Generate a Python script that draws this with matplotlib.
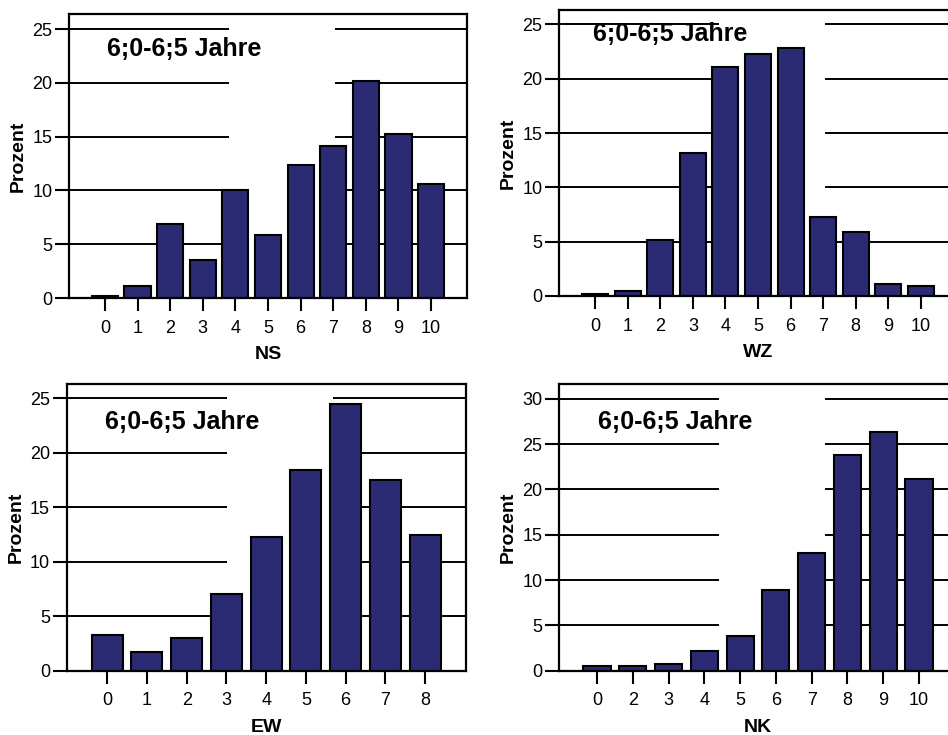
import matplotlib.pyplot as plt
from matplotlib.patches import Rectangle
from matplotlib.transforms import offset_copy

plt.rcParams['font.family'] = ['Liberation Sans', 'DejaVu Sans']

### Data ###

title_text = '6;0-6;5 Jahre'
y_label = 'Prozent'

ns_labels = ['0', '1', '2', '3', '4', '5', '6', '7', '8', '9', '10']
ns_values = [0.2, 1.1, 6.9, 3.5, 10.0, 5.9, 12.4, 14.1, 20.2, 15.2, 10.6]

wz_labels = ['0', '1', '2', '3', '4', '5', '6', '7', '8', '9', '10']
wz_values = [0.2, 0.5, 5.2, 13.2, 21.1, 22.3, 22.8, 7.3, 5.9, 1.1, 0.9]

ew_labels = ['0', '1', '2', '3', '4', '5', '6', '7', '8']
ew_values = [3.3, 1.7, 3.0, 7.0, 12.3, 18.4, 24.5, 17.5, 12.5]

nk_labels = ['0', '2', '3', '4', '5', '6', '7', '8', '9', '10']
nk_values = [0.5, 0.5, 0.7, 2.2, 3.8, 8.9, 13.0, 23.8, 26.3, 21.2]

bar_color = '#2a2b72'
W, H = 948, 735


def make_axes(fig, left, top, right, bottom):
    """Axes placed by pixel box (left, top, right, bottom)."""
    return fig.add_axes([left / W, 1 - bottom / H,
                         (right - left) / W, (bottom - top) / H])


def plot_panel(fig, ax, labels, values, xlabel, ymax, yticks, margin,
               bar_width, title_dx, title_dy):
    """Draw one SPSS-style percentage bar panel."""
    pos = list(range(len(labels)))

    ax.set_axisbelow(True)
    ax.yaxis.grid(True, color='black', linewidth=1.4)

    # white label frame hiding the middle of the grid lines
    ax.add_patch(Rectangle((0.402, 0.005), 0.266, 0.98,
                           transform=ax.transAxes, facecolor='white',
                           edgecolor='none', zorder=1))

    ax.bar(pos, values, width=bar_width, color=bar_color,
           edgecolor='black', linewidth=1.5, zorder=2)

    ax.set_xlim(-margin, len(labels) - 1 + margin)
    ax.set_ylim(0, ymax)
    ax.set_yticks(yticks)
    ax.set_xticks(pos)
    ax.set_xticklabels(labels)

    for sp in ax.spines.values():
        sp.set_linewidth(1.6)
        sp.set_zorder(3)

    ax.tick_params(axis='both', direction='out', length=10, width=1.5,
                   labelsize=13)
    ax.tick_params(axis='y', pad=2)
    ax.tick_params(axis='x', length=9.5, pad=6)

    ax.set_ylabel(y_label, fontsize=14, fontweight='bold', labelpad=4)
    ax.set_xlabel(xlabel, fontsize=14, fontweight='bold', labelpad=7)

    trans = offset_copy(ax.transAxes, fig=fig, x=title_dx, y=-title_dy,
                        units='dots')
    ax.text(0, 1, title_text, transform=trans, fontsize=18,
            fontweight='bold', ha='left', va='center', zorder=5)


fig = plt.figure(figsize=(9.48, 7.35), dpi=100)

ax1 = make_axes(fig, 69, 14, 467, 298)
plot_panel(fig, ax1, ns_labels, ns_values, 'NS', 26.4, [0, 5, 10, 15, 20, 25],
           1.1, 0.8, 38, 35)

ax2 = make_axes(fig, 559, 10.3, 957, 296)
plot_panel(fig, ax2, wz_labels, wz_values, 'WZ', 26.3, [0, 5, 10, 15, 20, 25],
           1.12, 0.8, 34, 24)

ax3 = make_axes(fig, 66.7, 384.3, 465.7, 670.7)
plot_panel(fig, ax3, ew_labels, ew_values, 'EW', 26.3, [0, 5, 10, 15, 20, 25],
           1.02, 0.78, 38.6, 37.4)

ax4 = make_axes(fig, 559, 384.3, 957, 670.7)
plot_panel(fig, ax4, nk_labels, nk_values, 'NK', 31.6,
           [0, 5, 10, 15, 20, 25, 30], 1.06, 0.76, 39, 37.4)

fig.savefig('out.png', dpi=100)
